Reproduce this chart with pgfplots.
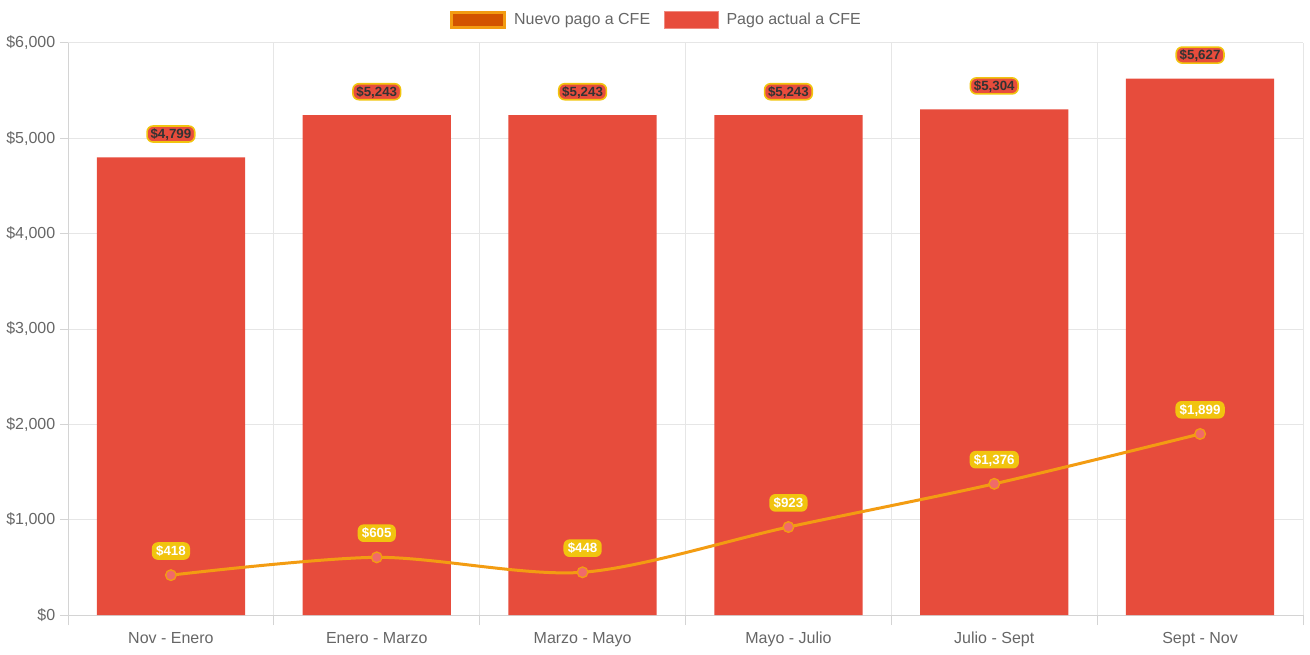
\documentclass[border=0pt]{standalone}
\usepackage{pgfplots}
\pgfplotsset{compat=1.18}
\usepackage{fontspec}
\setmainfont{Liberation Sans}
\definecolor{barred}{HTML}{E74C3C}
\definecolor{lineorange}{HTML}{F39C12}
\definecolor{legorange}{HTML}{D35400}
\definecolor{labyellow}{HTML}{F1C40F}
\definecolor{markfill}{HTML}{F06A6A}
\definecolor{gridgray}{HTML}{E6E6E6}
\definecolor{axisgray}{HTML}{D4D4D4}
\definecolor{textgray}{HTML}{666666}
\definecolor{labdark}{HTML}{333333}
\definecolor{legredborder}{HTML}{F08A80}
\pgfkeys{/pgf/number format/.cd, fixed, precision=0, 1000 sep={,}, assume math mode=true}
\begin{document}
\begin{tikzpicture}
\useasboundingbox (0,0) rectangle (982.5pt,490.5pt);
\begin{axis}[
  at={(51pt,29.25pt)}, anchor=south west,
  scale only axis, width=926.25pt, height=429pt,
  xmin=-0.5, xmax=5.5, ymin=0, ymax=6000,
  xtick={0,...,5},
  xticklabels={Nov - Enero, Enero - Marzo, Marzo - Mayo, Mayo - Julio, Julio - Sept, Sept - Nov},
  minor xtick={-0.5,0.5,...,5.5},
  ytick={0,1000,...,6000},
  yticklabel={\$\pgfmathprintnumber{\tick}},
  scaled y ticks=false,
  xminorgrids=true, ymajorgrids=true, xmajorgrids=false,
  grid style={gridgray, line width=0.75pt},
  minor grid style={gridgray, line width=0.75pt},
  axis x line=bottom, axis y line=left,
  axis line style={axisgray, line width=0.75pt, -},
  tick align=outside,
  major tick length=6pt, minor tick length=7.5pt,
  tick style={axisgray, line width=0.75pt},
  major x tick style={draw=none},
  tick label style={font=\fontsize{12}{14}\selectfont, text=textgray},
  xticklabel style={yshift=-3.5pt},
  legend style={at={(0.5,1)}, anchor=center, xshift=-22.5pt, yshift=17.25pt,
    draw=none, fill=none, font=\fontsize{12}{14}\selectfont, text=textgray,
    inner sep=0pt, nodes={inner sep=0pt},
    legend columns=2,
    /tikz/every odd column/.append style={column sep=6pt},
    /tikz/every even column/.append style={column sep=10.5pt}},
  legend cell align=left,
]
\addlegendimage{legend image code/.code={\draw[draw=lineorange, fill=legorange, line width=2.25pt] (0pt,-5.25pt) rectangle (39.75pt,5.25pt);}}
\addlegendentry{Nuevo pago a CFE}
\addlegendimage{legend image code/.code={\draw[draw=legredborder, fill=barred, line width=0.75pt] (0pt,-6pt) rectangle (40pt,6pt);}}
\addlegendentry{Pago actual a CFE}

\addplot[ybar, bar width=0.72, fill=barred, draw=none, forget plot,
  point meta=y,
  nodes near coords={\$\pgfmathprintnumber{\pgfplotspointmeta}},
  every node near coord/.append style={anchor=south, yshift=11pt,
    font=\bfseries\fontsize{10}{11}\selectfont, text=labdark,
    fill=barred, draw=labyellow, line width=1.2pt, rounded corners=4.5pt,
    inner xsep=2.6pt, inner ysep=2.4pt, text height=7.2pt, text depth=0pt}]
  coordinates {(0,4799) (1,5243) (2,5243) (3,5243) (4,5304) (5,5627)};

\addplot[smooth, color=lineorange, line width=2.25pt, forget plot,
  mark=*, mark size=4pt, mark options={fill=markfill, draw=lineorange, line width=1pt},
  point meta=y,
  nodes near coords={\$\pgfmathprintnumber{\pgfplotspointmeta}},
  every node near coord/.append style={anchor=south, yshift=11pt,
    font=\bfseries\fontsize{10}{11}\selectfont, text=white,
    fill=labyellow, draw=none, rounded corners=4.5pt,
    inner xsep=3.2pt, inner ysep=3pt, text height=7.2pt, text depth=0pt}]
  coordinates {(0,418) (1,605) (2,448) (3,923) (4,1376) (5,1899)};
\end{axis}
\end{tikzpicture}
\end{document}
